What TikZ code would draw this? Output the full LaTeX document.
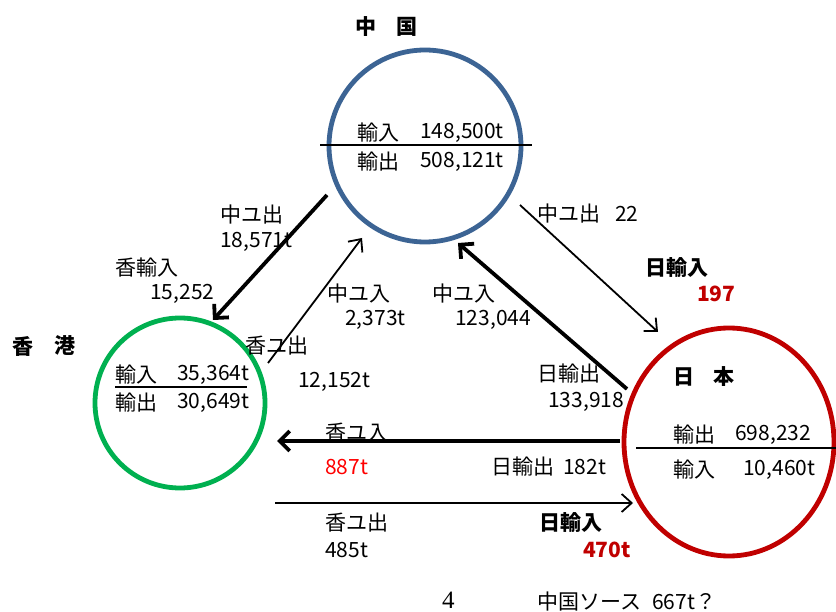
\documentclass[tikz,border=0pt]{standalone}
\usepackage{fontspec}
\setmainfont{Noto Sans CJK JP}
\newfontfamily\serifnum{Liberation Serif}
\usetikzlibrary{arrows.meta,shapes.geometric}
\definecolor{cnblue}{HTML}{3C6494}
\definecolor{hkgreen}{HTML}{00B050}
\definecolor{jpred}{HTML}{C00000}
\definecolor{brightred}{HTML}{FF0000}
\begin{document}
\begin{tikzpicture}[x=1pt,y=-1pt,
  font=\fontsize{21}{25}\selectfont,
  lbl/.style={inner sep=0pt, anchor=west},
  bold/.style={lbl, font=\fontsize{21}{25}\selectfont\bfseries},
  ring/.style={circle, draw, line width=4.8pt, inner sep=0pt},
  bigarrow/.style={line width=3.8pt, -{Straight Barb[length=10pt,width=20pt]}},
  thinarrow/.style={line width=1.8pt, -{Straight Barb[length=10pt,width=18pt]}},
  divider/.style={line width=1.8pt}]
\useasboundingbox (0,0) rectangle (836,612);

% circles
\node[ring, draw=cnblue, minimum size=192pt] (cn) at (425,146) {};
\node[ring, draw=hkgreen, minimum size=170pt] (hk) at (180,403) {};
\node[ellipse, draw=jpred, line width=4.8pt, inner sep=0pt, minimum width=210pt, minimum height=228pt] (jp) at (729,442) {};

% titles
\node[bold] (cnT1) at (355,27) {中};
\node[bold] (cnT2) at (396,27) {国};
\node[bold] (hkT1) at (12,346) {香};
\node[bold] (hkT2) at (54,346) {港};
\node[bold] (jpT1) at (673,377) {日};
\node[bold] (jpT2) at (713,377) {本};

% China contents
\coordinate (cnL) at (320,145);
\coordinate (cnR) at (532,145);
\draw[divider] (cnL) -- (cnR);
\node[lbl] (cn1a) at (357,133) {輸入};
\node[lbl] (cn1b) at (420,133) {148,500t};
\node[lbl] (cn2a) at (357,162) {輸出};
\node[lbl] (cn2b) at (420,162) {508,121t};

% HK contents
\node[lbl] (hk1a) at (115,375) {輸入};
\node[lbl] (hk1b) at (177,375) {35,364t};
\node[lbl] (hk2a) at (115,403) {輸出};
\node[lbl] (hk2b) at (177,403) {30,649t};
\coordinate (hkUL) at (115,387);
\coordinate (hkUR) at (247,387);
\draw[line width=1.5pt] (hkUL) -- (hkUR);

% Japan contents
\node[lbl] (jp1a) at (673,435) {輸出};
\node[lbl] (jp1b) at (735,435) {698,232};
\coordinate (jpL) at (636,448);
\coordinate (jpR) at (836,448);
\draw[divider] (jpL) -- (jpR);
\node[lbl] (jp2a) at (673,470) {輸入};
\node[lbl] (jp2b) at (743,470) {10,460t};

% arrow end points
\coordinate (a1s) at (327,195);  \coordinate (a1e) at (213,320);
\coordinate (a2s) at (268,363);  \coordinate (a2e) at (362,238);
\coordinate (a3s) at (520,205);  \coordinate (a3e) at (658,332);
\coordinate (a4s) at (627,389);  \coordinate (a4e) at (458,243);
\coordinate (a5s) at (620,441);  \coordinate (a5e) at (277,441);
\coordinate (a6s) at (275,503);  \coordinate (a6e) at (633,503);

\draw[bigarrow] (a1s) -- (a1e);
\draw[thinarrow] (a2s) -- (a2e);
\draw[thinarrow] (a3s) -- (a3e);
\draw[bigarrow] (a4s) -- (a4e);
\draw[bigarrow] (a5s) -- (a5e);
\draw[thinarrow] (a6s) -- (a6e);

% arrow labels
\node[lbl] (l1a) at (220,215) {中ユ出};
\node[lbl] (l1b) at (220,242) {18,571t};
\node[lbl] (l2a) at (115,268) {香輸入};
\node[lbl] (l2b) at (150,294) {15,252};
\node[lbl] (l3a) at (327,294) {中ユ入};
\node[lbl] (l3b) at (345,320) {2,373t};
\node[lbl] (l4a) at (245,346) {香ユ出};
\node[lbl] (l4b) at (298,382) {12,152t};
\node[lbl] (l5a) at (432,294) {中ユ入};
\node[lbl] (l5b) at (455,320) {123,044};
\node[lbl] (l6a) at (537,214) {中ユ出};
\node[lbl] (l6b) at (615,214) {22};
\node[bold] (l7a) at (645,268) {日輸入};
\node[bold, text=jpred] (l7b) at (697,294) {197};
\node[lbl] (l8a) at (537,374) {日輸出};
\node[lbl] (l8b) at (548,402) {133,918};
\node[lbl] (l9a) at (325,433) {香ユ入};
\node[lbl, text=brightred] (l9b) at (325,467) {887t};
\node[lbl] (l10a) at (491,467) {日輸出};
\node[lbl] (l10b) at (563,467) {182t};
\node[lbl] (l11a) at (325,523) {香ユ出};
\node[lbl] (l11b) at (325,550) {485t};
\node[bold] (l12a) at (539,523) {日輸入};
\node[bold, text=jpred] (l12b) at (583,550) {470t};

% footer
\node[lbl, font=\fontsize{25}{28}\selectfont\serifnum] (pg) at (442,600) {4};
\node[lbl] (src1) at (537,602) {中国ソース};
\node[lbl] (src2) at (652,602) {667t？};
\end{tikzpicture}
\end{document}
